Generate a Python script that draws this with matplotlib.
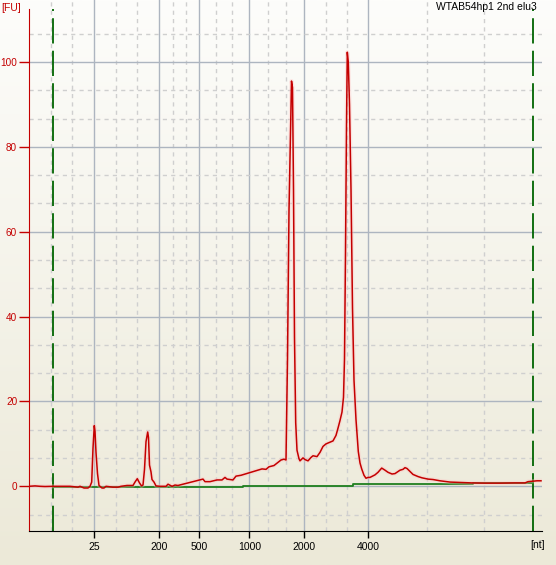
import numpy as np
import matplotlib.pyplot as plt
from matplotlib.ticker import FixedLocator

plt.rcParams['font.family'] = ['Liberation Sans', 'DejaVu Sans']

# 电泳图数据：迁移时间 (s) 与荧光强度 (FU)
time_s = [19.0, 19.6, 20.1, 20.6, 21.4, 22.1, 23.1, 23.9, 24.1, 24.5, 24.9, 25.1,
          25.27, 25.4, 25.53, 25.6, 25.7, 25.85, 26.0, 26.1, 26.3, 26.5, 26.7, 27.4,
          27.9, 28.2, 28.8, 29.4, 29.6, 29.83, 30.05, 30.25, 30.4, 30.55, 30.7, 30.87,
          30.95, 31.05, 31.2, 31.3, 31.5, 31.7, 32.1, 32.7, 32.9, 33.3, 33.6, 33.9,
          35.4, 35.7, 36.1, 36.4, 36.6, 37.1, 37.8, 38.3, 38.6, 38.8, 39.4, 39.7,
          40.2, 40.9, 41.6, 42.3, 42.7, 43.0, 43.5, 44.2, 44.5, 44.7, 44.85, 45.0,
          45.15, 45.25, 45.35, 45.45, 45.55, 45.67, 45.8, 46.0, 46.1, 46.4, 46.6, 46.9,
          47.2, 47.4, 47.8, 48.1, 48.4, 48.7, 48.9, 49.4, 49.7, 49.9, 50.1, 50.3,
          50.45, 50.55, 50.65, 50.75, 50.83, 50.93, 51.05, 51.2, 51.35, 51.5, 51.7, 51.93,
          52.1, 52.27, 52.5, 52.7, 52.9, 53.1, 53.6, 53.9, 54.27, 54.6, 54.9, 55.3,
          55.6, 56.1, 56.4, 56.6, 56.8, 57.1, 57.4, 57.9, 58.3, 58.9, 59.4, 60.1,
          61.1, 62.1, 63.3, 64.6, 66.1, 67.6, 68.6, 68.9, 69.4, 69.8, 70.2]
fu = [0.0, 0.1, 0.0, -0.05, 0.0, 0.0, 0.0, -0.2, 0.0, -0.4, -0.4, 0.0,
      1.0, 9.0, 14.3, 13.0, 8.0, 3.0, 0.2, 0.0, -0.4, -0.4, 0.0, -0.2,
      -0.2, 0.0, 0.2, 0.2, 1.0, 1.8, 0.8, 0.1, 0.3, 4.0, 10.5, 12.8,
      11.5, 5.0, 3.4, 1.6, 1.0, 0.1, 0.0, 0.0, 0.5, 0.0, 0.3, 0.2,
      1.1, 1.3, 1.5, 1.7, 1.1, 1.1, 1.5, 1.5, 2.1, 1.7, 1.5, 2.4,
      2.6, 3.1, 3.6, 4.1, 4.0, 4.6, 4.9, 6.2, 6.4, 6.2, 30.0, 65.0,
      84.0, 95.5, 94.0, 70.0, 35.0, 15.0, 8.5, 6.5, 6.0, 6.7, 6.3, 6.0,
      6.8, 7.2, 7.0, 8.0, 9.4, 10.0, 10.2, 10.7, 12.0, 13.7, 15.5, 17.5,
      21.0, 30.0, 55.0, 85.0, 102.3, 100.0, 90.0, 70.0, 42.0, 25.0, 15.7, 8.2,
      5.5, 4.1, 2.6, 1.9, 2.1, 2.1, 2.7, 3.3, 4.3, 3.8, 3.3, 2.9,
      3.0, 3.8, 4.0, 4.4, 4.2, 3.5, 2.8, 2.3, 2.0, 1.7, 1.6, 1.3,
      1.0, 0.9, 0.8, 0.75, 0.75, 0.8, 0.8, 1.1, 1.2, 1.3, 1.3]

# 基线（绿色）
base_t = [21.4, 40.4, 51.4, 63.4, 69.35]
base_fu = [-0.1, 0.15, 0.5, 0.7, 0.7]

# 分子量标准
ladder_nt = [25, 200, 500, 1000, 2000, 4000]
ladder_t = [25.5, 32.03, 36.03, 41.03, 46.53, 52.93]
marker_t = [21.4, 69.35]  # 上下标记
minor_t = [21.2, 23.33, 27.67, 29.77, 33.37, 34.67, 37.67, 39.27,
           42.87, 44.7, 48.67, 50.77, 58.77, 64.53]

W, H = 556, 565
fig = plt.figure(figsize=(W / 100, H / 100), dpi=100)

# 背景渐变
bg = fig.add_axes([0, 0, 1, 1], zorder=-1)
top_c = np.array([253, 253, 251]) / 255
bot_c = np.array([236, 233, 216]) / 255
g = np.linspace(0, 1, 256)[:, None]
grad = (top_c[None, :] * (1 - g) + bot_c[None, :] * g)[:, None, :]
bg.imshow(grad, aspect='auto', extent=[0, 1, 0, 1])
bg.axis('off')

ax = fig.add_axes([29 / W, 1 - 531 / H, (541.5 - 29) / W, 531 / H])
ax.set_facecolor('none')
ax.set_xlim(19, 70.25)
ax.set_ylim(-10.53, 114.6)

red = '#c40000'
fs = 7.5
ax.spines['top'].set_visible(False)
ax.spines['right'].set_visible(False)
ax.spines['left'].set_color(red)
ax.spines['left'].set_bounds(-10.53, 112.5)
ax.spines['bottom'].set_color('black')

ax.set_xticks(ladder_t, labels=[str(v) for v in ladder_nt])
ax.set_yticks([0, 20, 40, 60, 80, 100])
ax.xaxis.set_minor_locator(FixedLocator(minor_t))
ax.yaxis.set_minor_locator(FixedLocator([k * 20 / 3 for k in range(-1, 17) if k % 3 != 0]))
ax.tick_params(axis='x', which='major', length=5, width=1, pad=3, labelsize=fs)
ax.tick_params(axis='y', which='major', length=7.5, width=1, pad=1, labelsize=7.2,
               color=red, labelcolor=red)
ax.tick_params(which='minor', length=0)
ax.grid(which='major', color='#adb5c0', lw=1, ls='-')
ax.grid(which='minor', color='#cfcfcf', lw=1, ls=(0, (3, 3)))
ax.set_axisbelow(True)

# 标记线
for t in marker_t:
    ax.plot([t, t], [-10.53, 112.5], color='#006400', lw=1.3, ls=(0, (14, 4)))

ax.step(base_t, base_fu, where='post', color='#1f7f1f', lw=1.3)
ax.plot(time_s, fu, color='#ffc0c0', lw=3.0, alpha=0.35, solid_joinstyle='round')
ax.plot(time_s, fu, color=red, lw=1.1)

fig.text(537 / W, 1 - 7 / H, 'WTAB54hp1 2nd elu3', ha='right', va='center', fontsize=fs)
fig.text(1 / W, 1 - 8 / H, '[FU]', ha='left', va='center', fontsize=fs, color=red)
fig.text(538 / W, 1 - 545 / H, '[nt]', ha='center', va='center', fontsize=fs)

fig.savefig('out.png', dpi=100)
